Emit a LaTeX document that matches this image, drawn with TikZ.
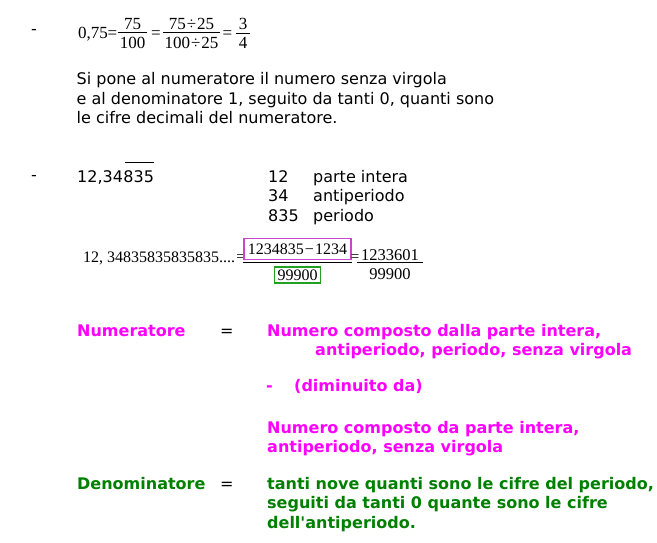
\documentclass[tikz,border=0pt]{standalone}
\usepackage{fontspec}
\setmainfont{DejaVu Sans}[Ligatures=TeXOff]
\newfontfamily\tnr{Liberation Serif}
\definecolor{mag}{RGB}{255,0,255}
\definecolor{grn}{RGB}{0,128,0}
\definecolor{boxmag}{RGB}{204,68,204}
\definecolor{boxgrn}{RGB}{34,160,34}
\begin{document}
\begin{tikzpicture}[x=1pt,y=-1pt,
  txt/.style={anchor=base west,inner sep=0pt,font=\fontsize{16}{19.5}\selectfont},
  ctxt/.style={anchor=base west,inner sep=0pt,font=\fontsize{16}{19.5}\selectfont\bfseries},
  mth/.style={anchor=base,inner sep=0pt,font=\fontsize{17}{20}\selectfont\tnr},
  mths/.style={anchor=base,inner sep=0pt,font=\fontsize{16.5}{20}\selectfont\tnr},
  meq/.style={anchor=base,inner sep=0pt,font=\fontsize{15}{18}\selectfont\tnr},
  fbar/.style={line width=0.8pt},
  framed/.style={draw,line width=1.1pt,inner sep=0pt,font=\fontsize{16}{20}\selectfont\tnr}]
\useasboundingbox[fill=white] (0,0) rectangle (657,542);

% ---- first example
\node[txt] (d1) at (31,34.4) {-};
\node[mth,anchor=base west] (a0) at (78,38.5) {0,75};
\node[mth] (ae1) at (112.5,38.5) {=};
\node[mth] (an1) at (132.5,29.3) {75};
\node[mth] (ad1) at (132.5,48.3) {100};
\draw[fbar] ([shift={(-2,-4)}]ad1.north west) -- ([shift={(2,-4)}]ad1.north east);
\node[mth] (ae2) at (156,38.5) {=};
\node[mth] (an2) at (191.5,29.3) {75\kern1pt÷\kern1pt25};
\node[mth] (ad2) at (191.5,48.3) {100\kern1pt÷\kern1pt25};
\draw[fbar] ([shift={(-1.6,-4)}]ad2.north west) -- ([shift={(1.6,-4)}]ad2.north east);
\node[mth] (ae3) at (227.5,38.5) {=};
\node[mth] (an3) at (243,29.3) {3};
\node[mth] (ad3) at (243,48.3) {4};
\draw[fbar] ([shift={(-3,-4)}]ad3.north west) -- ([shift={(3,-4)}]ad3.north east);

\node[txt] (s1) at (76.5,84.5) {Si pone al numeratore il numero senza virgola};
\node[txt] (s2) at (76.5,104) {e al denominatore 1, seguito da tanti 0, quanti sono};
\node[txt] (s3) at (76.5,123.5) {le cifre decimali del numeratore.};

% ---- second example
\node[txt] (d2) at (31,180.4) {-};
\node[txt] (p0) at (77,182) {12,34};
\node[txt] (p1) at (p0.base east) {835};
\draw[line width=0.9pt] ([xshift=2pt,yshift=7pt]p1.north west) -- ([yshift=7pt]p1.north east);

\node[txt] (r1a) at (268,182) {12};
\node[txt] (r1b) at (313,182) {parte intera};
\node[txt] (r2a) at (268,201.5) {34};
\node[txt] (r2b) at (313,201.5) {antiperiodo};
\node[txt] (r3a) at (268,221) {835};
\node[txt] (r3b) at (313,221) {periodo};

\node[mth,anchor=base west,font=\fontsize{16}{20}\selectfont\tnr] (b0) at (83,262) {12, 34835835835835....};
\node[meq] (be1) at (240.5,261) {=};
\node[framed,draw=boxmag,minimum width=107pt,minimum height=21pt] (pk) at (297.5,249) {1234835\kern1pt−\kern1pt1234};
\node[framed,draw=boxgrn,minimum width=46pt,minimum height=16pt] (gb) at (297.5,275) {99900};
\draw[fbar] ([yshift=-2.5pt]pk.south west) -- ([yshift=-2.5pt]pk.south east);
\node[meq] (be2) at (355,261) {=};
\node[mths] (bn) at (390,260) {1233601};
\node[mths] (bd) at (390,279.5) {99900};
\draw[fbar] ([shift={(-3.5,2)}]bn.south west) -- ([shift={(3.5,2)}]bn.south east);

% ---- rules
\node[ctxt,text=mag] (numl) at (77,336) {Numeratore};
\node[txt] (numeq) at (220,336) {=};
\node[ctxt,text=mag] (numr1) at (267,336) {Numero composto dalla parte intera,};
\node[ctxt,text=mag] (numr2) at (315,355.5) {antiperiodo, periodo, senza virgola};
\node[ctxt,text=mag] (d3) at (266,391) {-};
\node[ctxt,text=mag] (dimin) at (294,391.5) {(diminuito da)};
\node[ctxt,text=mag] (numr3) at (267,433) {Numero composto da parte intera,};
\node[ctxt,text=mag] (numr4) at (267,452.5) {antiperiodo, senza virgola};

\node[ctxt,text=grn] (denl) at (77,489) {Denominatore};
\node[txt] (deneq) at (220,489) {=};
\node[ctxt,text=grn] (denr1) at (267,489) {tanti nove quanti sono le cifre del periodo,};
\node[ctxt,text=grn] (denr2) at (267,508.5) {seguiti da tanti 0 quante sono le cifre};
\node[ctxt,text=grn] (denr3) at (267,528) {dell'antiperiodo.};
\end{tikzpicture}
\end{document}
